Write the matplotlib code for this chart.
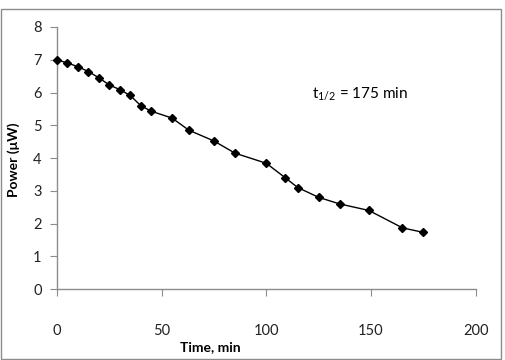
import matplotlib
matplotlib.use('Agg')
import matplotlib.pyplot as plt
from matplotlib.patches import Rectangle

# data
time_min = [0, 5, 10, 15, 20, 25, 30, 35, 40, 45, 55, 63, 75, 85,
            100, 109, 115, 125, 135, 149, 165, 175]
power_uw = [7.0, 6.9, 6.79, 6.64, 6.45, 6.23, 6.09, 5.91, 5.6, 5.43, 5.22,
            4.85, 4.52, 4.15, 3.84, 3.4, 3.1, 2.8, 2.6, 2.4, 1.87, 1.73]
x_ticks = [0, 50, 100, 150, 200]
y_ticks = [0, 1, 2, 3, 4, 5, 6, 7, 8]

plt.rcParams['font.family'] = ['Lato', 'DejaVu Sans']

fig = plt.figure(figsize=(5.06, 3.6), dpi=100)
ax = fig.add_axes([0.1126, 0.197, 0.8274, 0.728])

ax.plot(time_min, power_uw, color='black', lw=1.0, marker='D',
        markersize=4.5, markerfacecolor='black', markeredgecolor='black',
        clip_on=False, zorder=3)

ax.set_xlim(0, 200)
ax.set_ylim(0, 8)
ax.set_xticks(x_ticks)
ax.set_yticks(y_ticks)

for s in ['top', 'right']:
    ax.spines[s].set_visible(False)
for s in ['left', 'bottom']:
    ax.spines[s].set_color('#8c8c8c')
    ax.spines[s].set_linewidth(1.0)

ax.tick_params(axis='x', direction='out', length=5, color='#8c8c8c',
               labelsize=10.5, pad=20, labelcolor='#222222')
ax.tick_params(axis='y', direction='out', length=5, color='#8c8c8c',
               labelsize=10.5, pad=6, labelcolor='#222222')

ax.set_xlabel('Time, min', fontsize=10, fontweight='bold')
ax.set_ylabel('Power (\u03bcW)', fontsize=10, fontweight='bold')
ax.xaxis.set_label_coords((210 - 57) / 418.7, -(341 - 289) / 262.0)
ax.yaxis.set_label_coords(-(57 - 20) / 418.7, (289 - 160) / 262.0)

ax.text(122, 5.98, r'$\mathregular{t_{1/2}}$ = 175 min', fontsize=11,
        va='center', ha='left')

# chart border
fig.patches.append(Rectangle((0.001, 0.002), 0.989, 0.972, transform=fig.transFigure,
                             fill=False, edgecolor='#8c8c8c', lw=1.0))

fig.savefig('out.png', dpi=100)
